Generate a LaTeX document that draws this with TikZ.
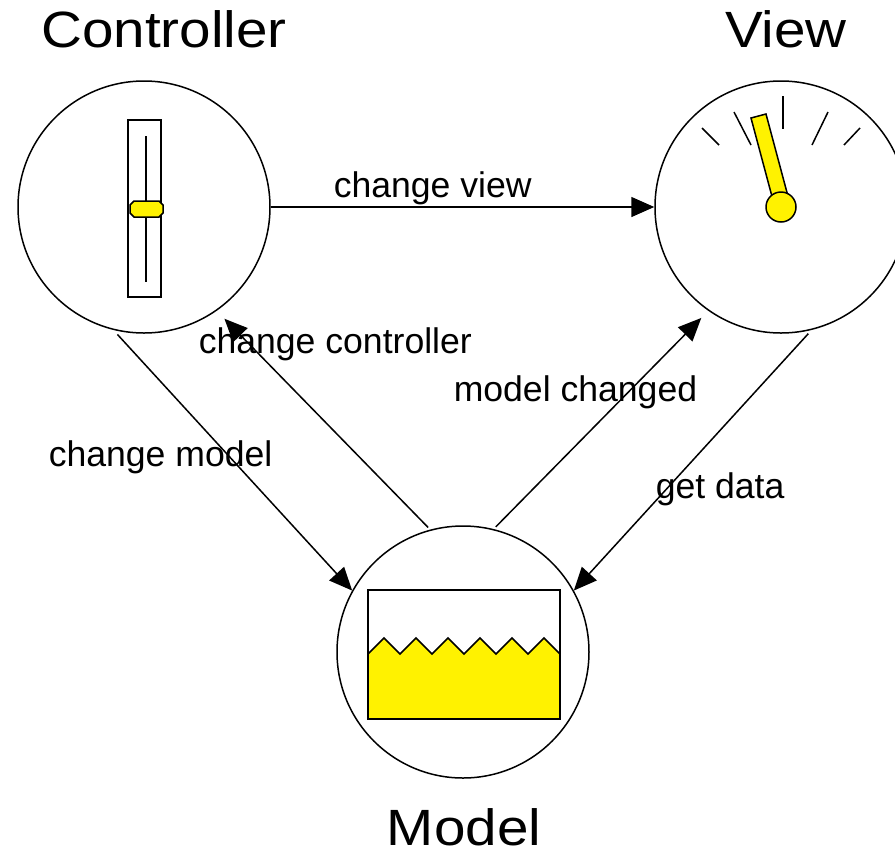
\documentclass[tikz,border=0pt]{standalone}
\usepackage{fontspec}
\setmainfont{Liberation Sans}
\usetikzlibrary{arrows.meta}
\tikzset{
  part/.style={draw,circle,minimum size=252pt,inner sep=0pt},
  title/.style={anchor=base,font=\fontsize{51}{51}\selectfont},
  msg/.style={anchor=base west,inner sep=0pt,font=\fontsize{35.6}{35.6}\selectfont},
  arr/.style={-{Triangle[length=23pt,width=20pt]}}
}
\newcommand{\widetitle}[1]{\scalebox{1.11}[1]{#1}}

\begin{document}
\begin{tikzpicture}[x=1pt,y=-1pt,line width=1.5pt]
\useasboundingbox (0,0) rectangle (895,855);
\node[part] (ctrl) at (144,207) {};
\node[part] (view) at (781,207) {};
\node[part] (model) at (463,652) {};
\node[title] (ctrltitle) at (164,47) {\widetitle{Controller}};
\node[title] (viewtitle) at (786,47) {\widetitle{View}};
\node[title] (modeltitle) at (464,845) {\widetitle{Model}};
% slider
\draw (128,120) rectangle (161,297);
\draw (146,136) -- (146,282);
\filldraw[fill=yellow] (134,201) -- (159,201) -- (163,205) -- (163,213) -- (159,217) -- (134,217) -- (130,213) -- (130,205) -- cycle;
% gauge
\draw (702,128) -- (719,145);
\draw (734,112) -- (751,145);
\draw (783,96) -- (783,129);
\draw (828,112) -- (812,145);
\draw (860,128) -- (844,145);
\filldraw[fill=yellow] (751,118) -- (766,114) -- (789,200) -- (774,204) -- cycle;
\filldraw[fill=yellow] (781,207) circle (15);
% tank
\filldraw[fill=yellow] (368,719) -- (368,654) \foreach \i in {0,...,5} { -- ({384+32*\i},638) -- ({400+32*\i},654)} -- (560,719) -- cycle;
\draw (368,590) rectangle (560,719);
% messages
\node[msg] (cv) at (333,197) {change view};
\node[msg] (cc) at (198,353) {change controller};
\node[msg] (mc) at (453,401) {model changed};
\node[msg] (cm) at (48,466) {change model};
\node[msg] (gd) at (655,498) {get data};
\draw[arr] (ctrl.east) -- (view.west);
\draw[arr,shorten <=6pt] (ctrl.256) -- (model.151);
\draw[arr,shorten <=3pt,shorten >=11pt] (model.105) -- (ctrl.305);
\draw[arr,shorten <=3pt,shorten >=10pt] (model.76) -- (view.235);
\draw[arr,shorten <=5pt] (view.284) -- (model.29);
\end{tikzpicture}
\end{document}
